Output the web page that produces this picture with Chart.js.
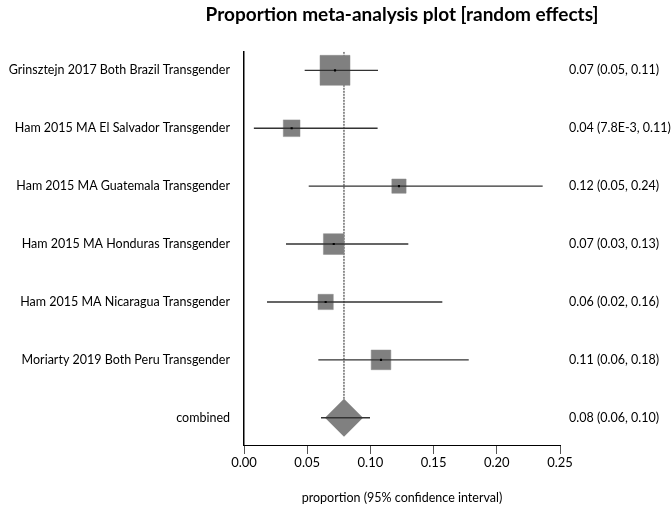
<!DOCTYPE html>
<html>
<head>
<meta charset="utf-8">
<script src="https://cdn.jsdelivr.net/npm/chart.js@4/dist/chart.umd.min.js"></script>
<style>
  html, body { margin: 0; padding: 0; background: #fff; }
  #wrap { width: 671px; height: 508px; }
</style>
</head>
<body>
<div id="wrap"><canvas id="c" width="671" height="508"></canvas></div>
<script>
// Study labels, top to bottom
const studies = [
  'Grinsztejn 2017 Both Brazil Transgender',
  'Ham 2015 MA El Salvador Transgender',
  'Ham 2015 MA Guatemala Transgender',
  'Ham 2015 MA Honduras Transgender',
  'Ham 2015 MA Nicaragua Transgender',
  'Moriarty 2019 Both Peru Transgender'
];
// Proportion estimates with 95% confidence limits
const estimate = [0.072, 0.0377, 0.1226, 0.0710, 0.0646, 0.1084];
const lower    = [0.048, 0.0078, 0.0512, 0.0332, 0.0182, 0.0588];
const upper    = [0.106, 0.1057, 0.2363, 0.1300, 0.1569, 0.1778];
// Relative study weights (%)
const weights  = [37.0, 11.5, 8.4, 17.6, 9.6, 15.9];
// Pooled (random effects) estimate
const pooledLabel = 'combined';
const pooled = { est: 0.0791, lo: 0.0609, hi: 0.0997 };
// x-axis ticks
const xTicks = [0, 0.05, 0.10, 0.15, 0.20, 0.25];

const FONT = 'Lato, "Liberation Sans", sans-serif';
const nRows = studies.length + 1;
const rowIdx = Array.from({ length: nRows }, (_, i) => i);
const leftLabels = studies.concat([pooledLabel]);

function fmt(v) {
  if (v < 0.01) {
    const e = Math.floor(Math.log10(v));
    return (v / Math.pow(10, e)).toFixed(1) + 'E' + e;
  }
  return v.toFixed(2);
}
const allEst = estimate.concat([pooled.est]);
const allLo = lower.concat([pooled.lo]);
const allHi = upper.concat([pooled.hi]);
const rightLabels = rowIdx.map(i => `${fmt(allEst[i])} (${fmt(allLo[i])}, ${fmt(allHi[i])})`);

// square side grows with sqrt(weight) so area tracks weight
const maxSide = 30;
const maxW = Math.max(...weights);
const sideFor = w => maxSide * Math.sqrt(w / maxW);

// confidence interval segments, broken with null gaps
const ciData = [];
rowIdx.forEach(i => {
  ciData.push({ x: allLo[i], y: i }, { x: allHi[i], y: i }, { x: allHi[i], y: null });
});

const Y_MIN = -0.32, Y_MAX = 6.47;

const yCommon = {
  type: 'linear',
  min: Y_MIN,
  max: Y_MAX,
  reverse: true,
  afterBuildTicks: s => { s.ticks = rowIdx.map(v => ({ value: v })); }
};

// The title sits over the plot area; give it room so the text keeps its natural width
const widenTitle = {
  id: 'widenTitle',
  afterLayout(chart) {
    const t = chart.titleBlock;
    if (t) { t.left -= 80; t.right += 80; t.width = t.right - t.left; }
  }
};

new Chart(document.getElementById('c'), {
  type: 'scatter',
  plugins: [widenTitle],
  data: {
    datasets: [
      {
        label: 'pooled line',
        data: [{ x: pooled.est, y: Y_MIN }, { x: pooled.est, y: nRows - 1 }],
        showLine: true,
        borderColor: '#222',
        borderWidth: 1,
        borderDash: [2, 1],
        pointRadius: 0,
        order: 5
      },
      {
        label: 'weights',
        data: estimate.map((v, i) => ({ x: v, y: i })),
        pointStyle: 'rect',
        pointRadius: weights.map(w => sideFor(w) / Math.SQRT2),
        backgroundColor: '#808080',
        borderColor: '#8a8a8a',
        borderWidth: 0.5,
        order: 4
      },
      {
        label: 'pooled',
        data: [{ x: pooled.est, y: nRows - 1 }],
        pointStyle: 'rectRot',
        pointRadius: 19,
        backgroundColor: '#808080',
        borderWidth: 0,
        order: 4
      },
      {
        label: 'ci',
        data: ciData,
        showLine: true,
        spanGaps: false,
        borderColor: '#333',
        borderWidth: 1.4,
        pointRadius: 0,
        order: 3
      },
      {
        label: 'points',
        data: estimate.map((v, i) => ({ x: v, y: i })),
        pointStyle: 'rect',
        pointRadius: 1.5,
        backgroundColor: '#000',
        borderWidth: 0,
        order: 2
      }
    ]
  },
  options: {
    responsive: false,
    animation: false,
    events: [],
    layout: { padding: { left: 0, right: 0, top: 0, bottom: 0 } },
    plugins: {
      legend: { display: false },
      tooltip: { enabled: false },
      title: {
        display: true,
        fullSize: false,
        text: 'Proportion meta-analysis plot [random effects]',
        color: '#000',
        font: { family: FONT, size: 19, weight: 'bold' },
        padding: { top: 3, bottom: 26 }
      }
    },
    scales: {
      x: {
        type: 'linear',
        min: 0,
        max: 0.25,
        afterBuildTicks: s => { s.ticks = xTicks.map(v => ({ value: v })); },
        afterFit: s => { s.height = 63; },
        grid: { drawOnChartArea: false, drawTicks: true, tickLength: 9, color: '#555' },
        border: { display: true, color: '#000', width: 1 },
        ticks: {
          color: '#000',
          padding: 1,
          font: { family: FONT, size: 13 },
          callback: v => v.toFixed(2)
        },
        title: {
          display: true,
          text: 'proportion (95% confidence interval)',
          color: '#000',
          font: { family: FONT, size: 12.5 },
          padding: { top: 0, bottom: 3 }
        }
      },
      y: Object.assign({}, yCommon, {
        position: 'left',
        afterFit: s => { s.width = 244; },
        grid: { drawOnChartArea: false, drawTicks: false },
        border: { display: true, color: '#000', width: 1.5 },
        ticks: {
          color: '#000',
          padding: 14,
          font: { family: FONT, size: 12.5 },
          callback: (v) => leftLabels[v] ?? ''
        }
      }),
      y2: Object.assign({}, yCommon, {
        position: 'right',
        afterFit: s => { s.width = 111; },
        grid: { display: false, drawTicks: false },
        border: { display: false },
        ticks: {
          color: '#000',
          padding: 9,
          font: { family: FONT, size: 12.5 },
          callback: (v) => rightLabels[v] ?? ''
        }
      })
    }
  }
});
</script>
</body>
</html>
